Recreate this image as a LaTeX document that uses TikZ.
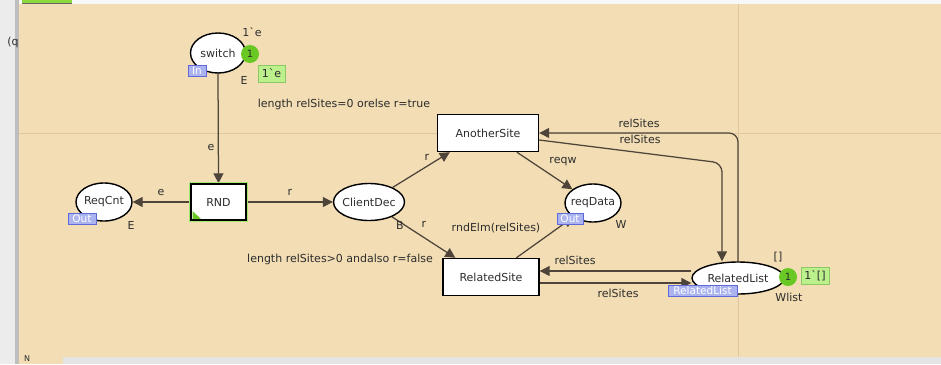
\documentclass[tikz,border=0pt]{standalone}
\usepackage{fontspec}
\setmainfont{DejaVu Sans}
\usetikzlibrary{arrows.meta,shapes.geometric,calc}
\definecolor{tanbg}{RGB}{242,221,180}
\definecolor{leftgray}{RGB}{236,236,236}
\definecolor{edgegray}{RGB}{190,190,190}
\definecolor{botgray}{RGB}{228,228,226}
\definecolor{gridcol}{RGB}{222,198,160}
\definecolor{arccol}{RGB}{78,68,58}
\definecolor{txtcol}{RGB}{45,45,45}
\definecolor{tokgreen}{RGB}{105,200,35}
\definecolor{markgreen}{RGB}{188,240,140}
\definecolor{markborder}{RGB}{140,200,100}
\definecolor{tagfill}{RGB}{172,180,240}
\definecolor{tagdraw}{RGB}{95,105,215}
\definecolor{glowgreen}{RGB}{165,232,110}
\definecolor{tabgreen}{RGB}{140,215,60}
\pgfdeclarelayer{bg}
\pgfdeclarelayer{arcs}
\pgfsetlayers{bg,arcs,main}
\begin{document}
\begin{tikzpicture}[x=1pt,y=-1pt,
  font=\fontsize{11}{13}\selectfont,
  place/.style={ellipse, draw=black, line width=1.4pt, fill=white, inner sep=0pt},
  trans/.style={rectangle, draw=black, line width=1.4pt, fill=white, inner sep=0pt, text=txtcol},
  arc/.style={draw=arccol, line width=1.25pt, -{Triangle[length=10pt,width=10pt]}},
  lbl/.style={text=txtcol, inner sep=0pt},
  tok/.style={circle, fill=tokgreen, inner sep=0pt, minimum size=18pt, text=txtcol, font=\fontsize{10}{12}\selectfont},
  markbox/.style={fill=markgreen, draw=markborder, line width=0.6pt, inner sep=0pt, minimum height=17pt, text=txtcol},
  tagbox/.style={fill=tagfill, draw=tagdraw, line width=0.8pt, inner sep=0pt, text=white, minimum height=11pt, font=\fontsize{10.5}{11}\selectfont},
  every label/.style={text=txtcol, inner sep=0pt}
]
\useasboundingbox (0,0) rectangle (941,364);
\begin{pgfonlayer}{bg}
  \fill[tanbg] (0,0) rectangle (941,364);
  \fill[leftgray] (0,0) rectangle (15,364);
  \fill[edgegray] (15,0) rectangle (19,364);
  \fill[white!94!gray] (19,0) rectangle (941,4);
  \fill[tabgreen] (22,0) rectangle (72,3);
  \draw[black!60, line width=0.6pt] (22,3) -- (72,3);
  \fill[botgray] (63,357) rectangle (941,364);
  \draw[gridcol, line width=0.9pt] (19,133) -- (941,133);
  \draw[gridcol, line width=0.9pt] (738,4) -- (738,357);
\end{pgfonlayer}

\node[lbl] (qtxt) at (13,42) {(q};
\node[lbl, anchor=north west, font=\fontsize{8}{9}\selectfont] (ntxt) at (24,355) {N};

% places
\node[place, minimum width=55, minimum height=40, label=center:switch] (sw) at (218,53) {};
\node[place, minimum width=56, minimum height=38, label=center:ReqCnt] (rc) at (104,202) {};
\node[place, minimum width=71, minimum height=37, label=center:ClientDec] (cd) at (369,202) {};
\node[place, minimum width=56, minimum height=38, label=center:reqData] (rd) at (593,203) {};
\node[place, minimum width=92, minimum height=32, label=center:RelatedList] (rl) at (738,278) {};

% transitions
\draw[glowgreen, line width=4.5pt] (191,184) rectangle (246,220);
\node[trans, minimum width=55, minimum height=36] (rnd) at (218.5,202) {RND};
\fill[tokgreen] (192.5,211) -- (192.5,219) -- (201,219) -- cycle;
\node[trans, minimum width=101, minimum height=37] (as) at (488,133) {AnotherSite};
\node[trans, minimum width=96, minimum height=37] (rs) at (491,277) {RelatedSite};

\coordinate (c1) at (722,163);

\begin{pgfonlayer}{arcs}
  \draw[arc] (sw.south) -- (rnd.north);
  \draw[arc] (rnd.west) -- (rc.east);
  \draw[arc] (rnd.east) -- (cd.west);
  \draw[arc] (cd) -- ([xshift=13pt]as.south west);
  \draw[arc] (cd) -- ([xshift=13pt]rs.north west);
  \draw[arc] ([xshift=80pt]as.south west) -- (rd);
  \draw[arc] ([xshift=74pt]rs.north west) -- (rd);
  \draw[arc, rounded corners=9pt] (rl.north) |- (as.east);
  \draw[arc, rounded corners=9pt] ([yshift=-7pt]as.east) -- (c1) -- (c1 |- rl.north);
  \draw[arc] ([yshift=7pt]rl.west) -- ([yshift=6pt]rs.east);
  \draw[arc] ([yshift=-6pt]rs.east) -- ([yshift=-5pt]rl.west);
\end{pgfonlayer}

% tokens and markings
\node[tok] (t1) at (250,54) {1};
\node[markbox, minimum width=27] (m1) at (271.5,73.5) {1\textasciigrave e};
\node[tok] (t2) at (788,277) {1};
\node[markbox, minimum width=28] (m2) at (815,275.5) {1\textasciigrave []};

% port tags
\node[tagbox, minimum width=18] (tin) at (197,71) {In};
\node[tagbox, minimum width=28] (tout1) at (82,218.5) {Out};
\node[tagbox, minimum width=26] (tout2) at (570,218.5) {Out};
\node[tagbox, minimum width=69] (trl) at (702.5,291) {RelatedList};

% inscriptions
\node[lbl] (l1) at (252,32) {1\textasciigrave e};
\node[lbl] (l2) at (244,80) {E};
\node[lbl] (l3) at (344,104) {length relSites=0 orelse r=true};
\node[lbl] (l4) at (211,147) {e};
\node[lbl] (l5) at (161,192) {e};
\node[lbl] (l6) at (131,225) {E};
\node[lbl] (l7) at (290,192) {r};
\node[lbl] (l8) at (427,157) {r};
\node[lbl] (l9) at (400,225) {B};
\node[lbl] (l10) at (424,224) {r};
\node[lbl] (l11) at (496,228) {rndElm(relSites)};
\node[lbl] (l12) at (340,259) {length relSites>0 andalso r=false};
\node[lbl] (l13) at (563,162) {reqw};
\node[lbl] (l14) at (621,224) {W};
\node[lbl] (l15) at (639,123) {relSites};
\node[lbl] (l16) at (640,139) {relSites};
\node[lbl] (l17) at (575,260) {relSites};
\node[lbl] (l18) at (618,293) {relSites};
\node[lbl] (l19) at (778,257) {[]};
\node[lbl] (l20) at (789,297) {Wlist};
\end{tikzpicture}
\end{document}
